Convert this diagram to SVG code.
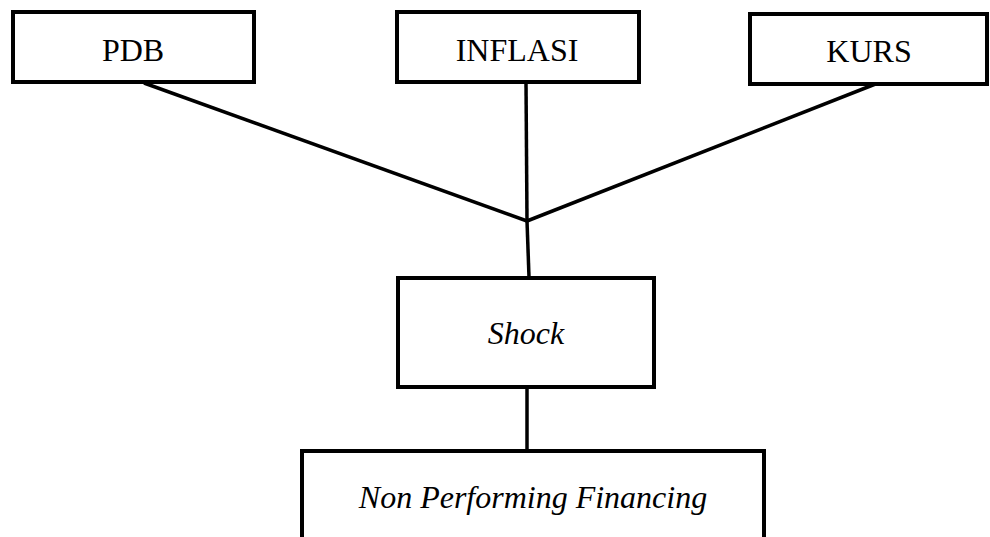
<svg xmlns="http://www.w3.org/2000/svg" width="990" height="537" viewBox="0 0 990 537">
<style>
.box{fill:#fff;stroke:#000;stroke-width:4}
.lbl{font-family:"Liberation Serif","Times New Roman",serif;font-size:32px;fill:#000;text-anchor:middle}
.it{font-style:italic}
.con{stroke:#000;stroke-width:3.5;fill:none}
</style>
<rect width="990" height="537" fill="#fff"/>
<g id="connectors">
<line class="con" x1="144" y1="83" x2="527" y2="221"/>
<line class="con" x1="526" y1="83" x2="527" y2="221"/>
<line class="con" x1="878" y1="83" x2="527" y2="221"/>
<line class="con" x1="527" y1="221" x2="529" y2="277"/>
<line class="con" x1="527" y1="387" x2="527" y2="450"/>
</g>
<g id="pdb"><rect class="box" x="13" y="12" width="241" height="70"/><text class="lbl" x="133" y="61">PDB</text></g>
<g id="inflasi"><rect class="box" x="397" y="12" width="242" height="70"/><text class="lbl" x="517" y="61">INFLASI</text></g>
<g id="kurs"><rect class="box" x="750" y="14" width="237" height="70"/><text class="lbl" x="869" y="62">KURS</text></g>
<g id="shock"><rect class="box" x="398" y="278" width="256" height="109"/><text class="lbl it" x="526" y="344">Shock</text></g>
<g id="npf"><rect class="box" x="302" y="451" width="462" height="100"/><text class="lbl it" x="533" y="508">Non Performing Financing</text></g>
</svg>
